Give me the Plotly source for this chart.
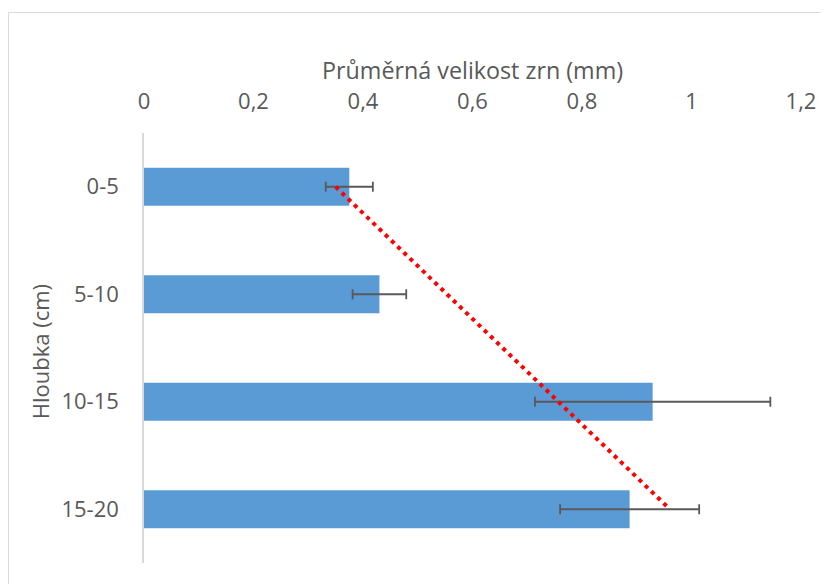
import numpy as np
import plotly.graph_objects as go

# Data
categories = ["0-5", "5-10", "10-15", "15-20"]
mean_size = [0.375, 0.43, 0.929, 0.887]
error_size = [0.043, 0.049, 0.215, 0.127]
x_ticks = [0, 0.2, 0.4, 0.6, 0.8, 1.0, 1.2]
x_title = "Průměrná velikost zrn (mm)"
y_title = "Hloubka (cm)"

# linear trendline over category index (as Excel does)
idx = np.arange(1, len(categories) + 1)
slope, intercept = np.polyfit(idx, mean_size, 1)
trend = list(slope * idx + intercept)

FONT = "Open Sans"
GRAY = "#595959"
FS = 22
FT = 23.3
FTY = 22

fig = go.Figure()
fig.add_trace(go.Bar(
    y=categories, x=mean_size, orientation="h",
    marker=dict(color="#5b9bd5", line=dict(width=0)),
    error_x=dict(type="data", array=error_size, visible=True,
                 color=GRAY, thickness=1.8, width=5),
    showlegend=False,
))
fig.add_trace(go.Scatter(
    y=categories, x=trend, mode="lines",
    line=dict(color="#ff0000", width=4, dash="4px,4.6px"),
    showlegend=False,
))

# page has an 8px body margin, so the figure is offset by 8px
W, H = 821, 576
ml, mr, mt, mb = 136, 28, 125, 21
pw, ph = W - ml - mr, H - mt - mb

fig.update_layout(
    width=W, height=H,
    margin=dict(l=ml, r=mr, t=mt, b=mb),
    paper_bgcolor="white", plot_bgcolor="white",
    separators=", ",
    bargap=0.646,
    font=dict(family=FONT, size=FS, color=GRAY),
    xaxis=dict(
        side="top", range=[0, 1.2], tickvals=x_ticks,
        showgrid=False, zeroline=False, showline=False,
        ticks="", ticklabelstandoff=19,
        tickfont=dict(family=FONT, size=FS, color=GRAY),
    ),
    yaxis=dict(
        type="category", autorange="reversed",
        showgrid=False, zeroline=False,
        showline=True, linecolor="#d9d9d9", linewidth=1.5,
        ticks="", ticklabelstandoff=19,
        tickfont=dict(family=FONT, size=FS, color=GRAY),
    ),
    annotations=[
        dict(text=x_title, xref="paper", yref="paper", x=0.5, y=1,
             xanchor="center", yanchor="middle", yshift=63, showarrow=False,
             font=dict(family=FONT, size=FT, color=GRAY)),
        dict(text=y_title, xref="paper", yref="paper", x=0, y=0.49,
             xanchor="center", yanchor="middle", xshift=-104, textangle=-90,
             showarrow=False, font=dict(family=FONT, size=FTY, color=GRAY)),
    ],
    shapes=[
        dict(type="rect", xref="paper", yref="paper",
             x0=(0.5 - ml) / pw, x1=(W + 5 - ml) / pw,
             y0=(H - mb - (H + 5)) / ph, y1=(H - mb - 4.5) / ph,
             line=dict(color="#d9d9d9", width=1), fillcolor="rgba(0,0,0,0)",
             layer="below"),
    ],
)

fig.write_html("out.html")
